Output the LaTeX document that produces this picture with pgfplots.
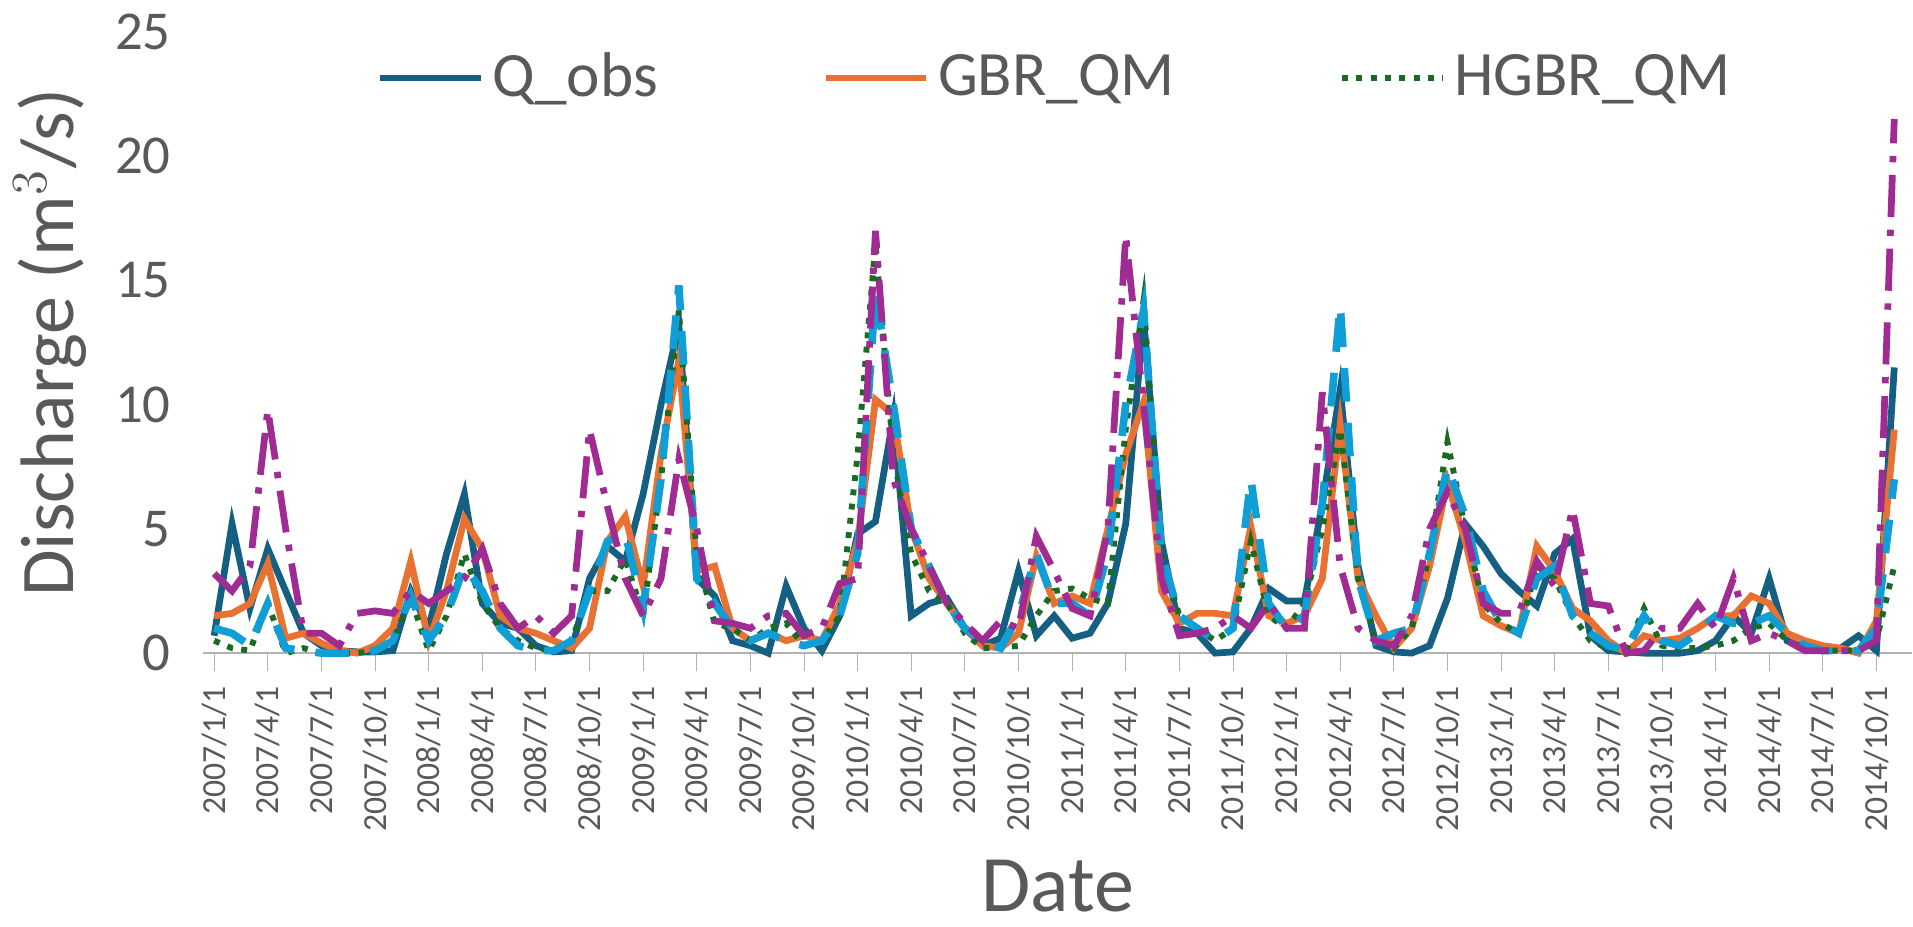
\documentclass[border=0pt]{standalone}
\usepackage{pgfplots}
\pgfplotsset{compat=1.18}
\usepackage{pgfplotstable}
\usepackage{fontspec}
\setmainfont{Carlito}
\definecolor{qobs}{HTML}{156082}
\definecolor{gbr}{HTML}{E97132}
\definecolor{hgbr}{HTML}{196B24}
\definecolor{cy}{HTML}{0F9ED5}
\definecolor{pu}{HTML}{A02B93}
\definecolor{tx}{HTML}{595959}
\pgfplotstableread{
i q g h c p
0 0.7 1.5 0.5 1.0 3.2
1 5.2 1.6 0.2 0.8 2.5
2 1.8 2.0 0.1 0.3 3.5
3 4.2 3.6 2.0 2.0 9.8
4 2.5 0.6 0.0 0.2 5.0
5 0.8 0.8 0.2 0.1 0.8
6 0.3 0.4 0.0 0.0 0.8
7 0.1 0.1 0.0 0.0 0.3
8 0.05 0.0 0.0 0.0 1.6
9 0.05 0.3 0.1 0.1 1.7
10 0.1 1.0 0.5 0.5 1.6
11 2.5 3.7 2.2 2.3 2.5
12 1.0 0.5 0.1 0.5 2.0
13 4.0 2.5 1.5 1.5 2.5
14 6.4 5.4 4.0 3.5 3.0
15 2.0 4.2 2.0 2.5 4.2
16 1.2 1.5 1.0 1.0 2.0
17 1.0 1.0 0.5 0.3 1.0
18 0.3 0.8 0.2 0.1 1.5
19 0.05 0.5 0.1 0.1 0.8
20 0.1 0.2 0.5 0.5 1.5
21 3.0 1.0 2.5 2.5 9.0
22 4.3 4.5 2.5 4.5 5.9
23 3.7 5.5 3.8 4.8 3.0
24 6.4 2.7 1.5 1.8 1.5
25 10.0 8.0 7.0 7.0 3.0
26 13.2 11.8 13.8 14.8 7.8
27 3.0 3.3 3.9 3.0 5.0
28 2.3 3.5 1.2 2.0 1.3
29 0.5 1.0 1.0 1.0 1.2
30 0.3 0.5 0.5 0.5 1.0
31 0.0 0.8 1.0 0.8 1.5
32 2.7 0.5 1.2 0.5 1.6
33 1.0 0.7 0.3 0.3 0.7
34 0.1 0.5 0.5 0.5 1.0
35 1.5 2.0 1.5 1.5 2.8
36 4.8 4.5 8.0 4.0 3.0
37 5.3 10.2 16.5 14.5 17.0
38 9.5 9.6 8.0 10.0 7.0
39 1.5 5.0 4.0 5.0 5.0
40 2.0 3.0 2.5 3.5 3.5
41 2.2 2.0 2.0 2.0 2.0
42 1.0 1.0 0.8 1.0 1.2
43 0.3 0.3 0.2 0.5 0.5
44 0.6 0.2 0.2 0.2 1.3
45 3.3 0.8 0.3 1.5 1.0
46 0.7 3.9 1.5 4.0 4.7
47 1.5 2.0 2.5 2.0 3.3
48 0.6 2.3 2.6 2.0 1.8
49 0.8 2.0 2.2 1.5 1.5
50 2.0 5.0 2.0 4.0 5.0
51 5.2 8.0 9.0 10.0 16.8
52 13.5 10.1 14.2 13.8 10.0
53 4.5 2.5 4.0 4.0 3.0
54 1.0 1.2 1.5 1.5 0.7
55 0.8 1.6 1.0 1.0 0.8
56 0.0 1.6 0.5 0.5 1.0
57 0.05 1.5 1.0 1.0 1.5
58 1.0 5.1 4.5 7.0 1.0
59 2.6 1.5 1.5 2.0 2.0
60 2.1 1.2 1.0 1.0 1.0
61 2.1 1.5 2.0 1.5 1.0
62 6.0 3.0 5.0 6.0 10.5
63 10.6 9.2 9.0 14.0 3.5
64 3.5 3.0 3.0 3.0 1.0
65 0.3 1.5 0.5 0.5 0.5
66 0.05 0.2 0.2 0.8 0.3
67 0.0 1.0 1.0 1.0 1.5
68 0.3 3.5 4.0 4.0 5.0
69 2.2 6.9 8.5 7.5 6.5
70 5.2 4.5 5.0 5.5 5.0
71 4.3 1.5 2.0 2.5 2.0
72 3.2 1.1 1.2 1.2 1.6
73 2.5 0.8 0.8 0.8 1.6
74 1.9 4.3 3.5 3.0 3.7
75 4.0 3.3 3.0 3.5 2.7
76 4.6 1.8 1.5 1.5 5.8
77 0.7 1.3 0.5 0.8 2.0
78 0.1 0.5 0.2 0.3 1.9
79 0.05 0.0 0.1 0.1 0.0
80 0.0 0.7 1.8 1.5 0.1
81 0.0 0.5 0.3 0.5 1.0
82 0.0 0.6 0.2 0.3 1.0
83 0.1 1.0 0.2 0.8 2.0
84 0.5 1.5 0.3 1.5 1.0
85 1.5 1.5 0.5 1.2 3.0
86 0.8 2.3 1.0 1.2 0.5
87 3.0 2.0 1.2 1.5 0.8
88 0.5 0.8 0.5 0.8 0.5
89 0.2 0.5 0.1 0.3 0.1
90 0.1 0.3 0.1 0.1 0.1
91 0.2 0.2 0.1 0.1 0.1
92 0.7 0.0 0.1 0.1 0.1
93 0.1 1.3 0.5 1.0 0.5
94 11.5 9.0 3.5 7.0 21.5
}\data
\begin{document}
\begin{tikzpicture}
\begin{axis}[
  scale only axis, width=14.25cm, height=5.18cm,
  xmin=-0.6, xmax=95, ymin=0, ymax=25,
  ytick={0,5,...,25},
  xtick={0,3,...,93},
  xticklabels={2007/1/1,2007/4/1,2007/7/1,2007/10/1,2008/1/1,2008/4/1,2008/7/1,2008/10/1,2009/1/1,2009/4/1,2009/7/1,2009/10/1,2010/1/1,2010/4/1,2010/7/1,2010/10/1,2011/1/1,2011/4/1,2011/7/1,2011/10/1,2012/1/1,2012/4/1,2012/7/1,2012/10/1,2013/1/1,2013/4/1,2013/7/1,2013/10/1,2014/1/1,2014/4/1,2014/7/1,2014/10/1},
  x tick label style={rotate=90, anchor=east, font=\fontsize{8}{9}\selectfont, text=tx},
  y tick label style={font=\fontsize{13}{14}\selectfont, text=tx},
  /pgf/number format/assume math mode=true,
  axis x line*=bottom, axis y line*=left,
  x axis line style={draw=gray!60, -}, y axis line style={draw=none},
  xtick style={draw=gray!60}, ytick style={draw=none},
  tick align=outside,
  xlabel={Date}, ylabel={Discharge (m$^3$/s)},
  xlabel style={font=\fontsize{19}{20}\selectfont, text=tx},
  ylabel style={font=\fontsize{18}{20}\selectfont, text=tx},
  legend style={draw=none, fill=none, at={(0.5,0.995)}, anchor=north, legend columns=3, font=\fontsize{15}{17}\selectfont, text=tx, /tikz/every even column/.append style={column sep=1.3cm}},
  legend image post style={xscale=1.4},
  clip=false,
]
\addplot[qobs, line width=1.6pt] table[x=i,y=q]{\data};
\addlegendentry{Q\_obs}
\addplot[gbr, line width=1.6pt] table[x=i,y=g]{\data};
\addlegendentry{GBR\_QM}
\addplot[hgbr, line width=1.4pt, dotted] table[x=i,y=h]{\data};
\addlegendentry{HGBR\_QM}
\addplot[cy, line width=1.8pt, dash pattern=on 8pt off 5pt, forget plot] table[x=i,y=c]{\data};
\addplot[pu, line width=1.6pt, dash pattern=on 10pt off 3pt on 1.5pt off 3pt, forget plot] table[x=i,y=p]{\data};
\end{axis}
\end{tikzpicture}
\end{document}
